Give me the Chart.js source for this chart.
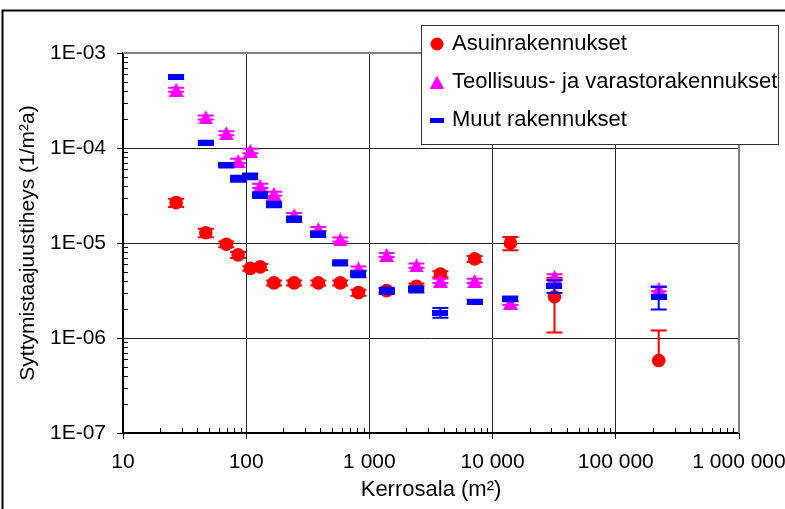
<!DOCTYPE html>
<html>
<head>
<meta charset="utf-8">
<title>Syttymistaajuustiheys</title>
<script src="https://cdn.jsdelivr.net/npm/chart.js@4.4.0/dist/chart.umd.min.js"></script>
<style>
  html, body { margin: 0; padding: 0; background: #fff; }
  #wrap { width: 785px; height: 509px; }
</style>
</head>
<body>
<div id="wrap"><canvas id="chart" width="785" height="509"></canvas></div>
<script>
// floor area classes (m2)
const areas = [27, 47, 69, 86, 108, 130, 168, 245, 385, 580, 815, 1380, 2410, 3770, 7150, 13950, 31800, 223000];

// ignition frequency density (1/m2a) and its error (+/-)
const asuin = [2.66e-5, 1.28e-5, 9.7e-6, 7.5e-6, 5.4e-6, 5.6e-6, 3.8e-6, 3.8e-6, 3.8e-6, 3.8e-6, 3.0e-6, 3.15e-6, 3.5e-6, 4.7e-6, 6.8e-6, 1.0e-5, 2.72e-6, 5.8e-7];
const asuinErr = [2.6e-6, 1.3e-6, 7e-7, 5.5e-7, 3e-7, 4e-7, 2.2e-7, 2.2e-7, 2.2e-7, 2.2e-7, 2.2e-7, 1.6e-7, 2.5e-7, 3.5e-7, 5e-7, 1.6e-6, 1.58e-6, 6.2e-7];

const teoll = [4.1e-4, 2.1e-4, 1.43e-4, 7.3e-5, 9.3e-5, 4.0e-5, 3.3e-5, 1.97e-5, 1.4e-5, 1.09e-5, 5.4e-6, 7.5e-6, 5.8e-6, 4.0e-6, 4.0e-6, 2.35e-6, 4.4e-6, 3.3e-6];
const teollErr = [2.0e-5, 1.0e-5, 7e-6, 4e-6, 5e-6, 2e-6, 1.6e-6, 1.0e-6, 7e-7, 5e-7, 2.7e-7, 3.7e-7, 3e-7, 2e-7, 2e-7, 1.2e-7, 3e-7, 2e-7];

const muut = [5.6e-4, 1.14e-4, 6.6e-5, 4.75e-5, 5.05e-5, 3.2e-5, 2.55e-5, 1.78e-5, 1.24e-5, 6.2e-6, 4.7e-6, 3.15e-6, 3.26e-6, 1.85e-6, 2.41e-6, 2.58e-6, 3.52e-6, 2.72e-6];
const muutErr = [2.5e-5, 5e-6, 3.5e-6, 3.5e-6, 3.5e-6, 2.2e-6, 1.7e-6, 1.2e-6, 8e-7, 4e-7, 3.5e-7, 2.4e-7, 2.5e-7, 2.2e-7, 1.2e-7, 1.5e-7, 5.4e-7, 7.2e-7];

const seriesNames = ['Asuinrakennukset', 'Teollisuus- ja varastorakennukset', 'Muut rakennukset'];

const xTicks = [10, 100, 1000, 10000, 100000, 1000000];
const xTickLabels = ['10', '100', '1 000', '10 000', '100 000', '1 000 000'];
const yTicks = [1e-7, 1e-6, 1e-5, 1e-4, 1e-3];
const yTickLabels = ['1E-07', '1E-06', '1E-05', '1E-04', '1E-03'];

const RED = '#ff0000';
const MAGENTA = '#ff00ff';
const BLUE = '#0000ff';
const FONT = '"Liberation Sans", Arial, sans-serif';

function makeMarker(w, h, draw) {
  const c = document.createElement('canvas');
  c.width = w;
  c.height = h;
  draw(c.getContext('2d'), w, h);
  return c;
}

function triangleMarker(w, h) {
  return makeMarker(w, h, (g) => {
    g.fillStyle = MAGENTA;
    g.beginPath();
    g.moveTo(w / 2, 0);
    g.lineTo(w, h);
    g.lineTo(0, h);
    g.closePath();
    g.fill();
  });
}

function dashMarker(w, h) {
  return makeMarker(w, h, (g) => {
    g.fillStyle = BLUE;
    g.fillRect(0, 0, w, h);
  });
}

const triPoint = triangleMarker(15, 14);
const dashPoint = dashMarker(16, 6);

function toPoints(vals) {
  return vals.map((v, i) => ({ x: areas[i], y: v }));
}

// vertical error bars with caps, drawn right after each series
const errorBars = {
  id: 'errorBars',
  afterDatasetDraw(chart, args) {
    const ds = chart.data.datasets[args.index];
    if (!ds.errors) return;
    const { ctx, chartArea, scales: { x, y } } = chart;
    ctx.save();
    ctx.beginPath();
    ctx.rect(chartArea.left, chartArea.top, chartArea.right - chartArea.left, chartArea.bottom - chartArea.top);
    ctx.clip();
    ctx.strokeStyle = ds.borderColor;
    ctx.lineWidth = 2;
    ds.data.forEach((p, i) => {
      const e = ds.errors[i];
      const px = x.getPixelForValue(p.x);
      const py = y.getPixelForValue(p.y);
      const top = y.getPixelForValue(p.y + e);
      const lo = p.y - e;
      const bottom = lo > 0 ? y.getPixelForValue(lo) : null;
      ctx.beginPath();
      ctx.moveTo(px, top);
      ctx.lineTo(px, bottom === null ? py : bottom);
      ctx.moveTo(px - 8, top);
      ctx.lineTo(px + 8, top);
      if (bottom !== null) {
        ctx.moveTo(px - 8, bottom);
        ctx.lineTo(px + 8, bottom);
      }
      ctx.stroke();
    });
    ctx.restore();
  }
};

// minor log ticks, plot frame, outer frame and the boxed legend
const decor = {
  id: 'decor',
  afterDraw(chart) {
    const { ctx, chartArea: a, scales: { x, y } } = chart;
    ctx.save();

    ctx.strokeStyle = '#000';
    ctx.lineWidth = 1;
    ctx.beginPath();
    for (let d = -7; d < -3; d++) {
      for (let k = 2; k <= 9; k++) {
        const py = Math.round(y.getPixelForValue(k * Math.pow(10, d))) + 0.5;
        ctx.moveTo(a.left, py);
        ctx.lineTo(a.left + 5, py);
      }
    }
    for (let d = 1; d < 6; d++) {
      for (let k = 2; k <= 9; k++) {
        const px = Math.round(x.getPixelForValue(k * Math.pow(10, d))) + 0.5;
        ctx.moveTo(px, a.bottom);
        ctx.lineTo(px, a.bottom - 5);
      }
    }
    ctx.stroke();

    // top and right edges of the plot area
    ctx.strokeStyle = '#808080';
    ctx.lineWidth = 2;
    ctx.beginPath();
    ctx.moveTo(a.left, a.top);
    ctx.lineTo(a.right, a.top);
    ctx.lineTo(a.right, a.bottom);
    ctx.stroke();

    // outer chart frame
    ctx.strokeStyle = '#000';
    ctx.lineWidth = 2;
    ctx.beginPath();
    ctx.moveTo(2.5, chart.height);
    ctx.lineTo(2.5, 10.5);
    ctx.lineTo(chart.width, 10.5);
    ctx.stroke();

    // legend
    const lx = 421.5, ly = 25.5, lw = 357, lh = 119;
    ctx.fillStyle = '#fff';
    ctx.fillRect(lx, ly, lw, lh);
    ctx.strokeStyle = '#333';
    ctx.lineWidth = 1;
    ctx.strokeRect(lx, ly, lw, lh);

    const rows = [44, 82, 120];
    const iconX = 437;
    ctx.fillStyle = RED;
    ctx.beginPath();
    ctx.arc(iconX, rows[0], 6.5, 0, Math.PI * 2);
    ctx.fill();
    ctx.drawImage(triangleMarker(14, 13), iconX - 7, rows[1] - 6.5);
    ctx.drawImage(dashMarker(14, 5), iconX - 7, rows[2] - 2.5);

    ctx.fillStyle = '#000';
    ctx.font = '22px ' + FONT;
    ctx.textBaseline = 'middle';
    ctx.textAlign = 'left';
    seriesNames.forEach((name, i) => ctx.fillText(name, 452, rows[i]));

    ctx.restore();
  }
};

const tickFont = { family: FONT, size: 21 };

new Chart(document.getElementById('chart'), {
  type: 'scatter',
  data: {
    datasets: [
      {
        label: seriesNames[0],
        data: toPoints(asuin),
        errors: asuinErr,
        pointStyle: 'circle',
        pointRadius: 6.8,
        backgroundColor: RED,
        borderColor: RED,
        pointBorderWidth: 0,
        order: 3
      },
      {
        label: seriesNames[1],
        data: toPoints(teoll),
        errors: teollErr,
        pointStyle: triPoint,
        backgroundColor: MAGENTA,
        borderColor: MAGENTA,
        order: 2
      },
      {
        label: seriesNames[2],
        data: toPoints(muut),
        errors: muutErr,
        pointStyle: dashPoint,
        backgroundColor: BLUE,
        borderColor: BLUE,
        order: 1
      }
    ]
  },
  options: {
    responsive: false,
    animation: false,
    layout: { padding: { top: 53, right: 46, left: 0, bottom: 0 } },
    plugins: {
      legend: { display: false },
      tooltip: { enabled: false }
    },
    scales: {
      x: {
        type: 'logarithmic',
        position: 'bottom',
        min: 10,
        max: 1000000,
        afterBuildTicks: (s) => { s.ticks = xTicks.map((v) => ({ value: v })); },
        afterFit: (s) => {
          s.height = 76;
          s.paddingLeft = 0;
          s.paddingRight = 0;
        },
        ticks: {
          autoSkip: false,
          maxRotation: 0,
          padding: 11,
          color: '#000',
          font: tickFont,
          callback: (v, i) => xTickLabels[i]
        },
        grid: { color: '#222', lineWidth: 1, tickLength: 6, tickColor: '#000' },
        border: { color: '#000', width: 2 },
        title: {
          display: true,
          text: 'Kerrosala (m²)',
          color: '#000',
          font: { family: FONT, size: 22 },
          padding: { top: 0, bottom: 6 }
        }
      },
      y: {
        type: 'logarithmic',
        position: 'left',
        min: 1e-7,
        max: 1e-3,
        afterBuildTicks: (s) => { s.ticks = yTicks.map((v) => ({ value: v })); },
        afterFit: (s) => {
          s.width = 123;
          s.paddingTop = 0;
          s.paddingBottom = 0;
        },
        ticks: {
          autoSkip: false,
          padding: 11,
          color: '#000',
          font: tickFont,
          callback: (v, i) => yTickLabels[i]
        },
        grid: { color: '#222', lineWidth: 1, tickLength: 6, tickColor: '#000' },
        border: { color: '#000', width: 2 },
        title: {
          display: true,
          text: 'Syttymistaajuustiheys (1/m²a)',
          color: '#000',
          font: { family: FONT, size: 21 },
          padding: { top: 16, bottom: 0 }
        }
      }
    }
  },
  plugins: [errorBars, decor]
});
</script>
</body>
</html>
